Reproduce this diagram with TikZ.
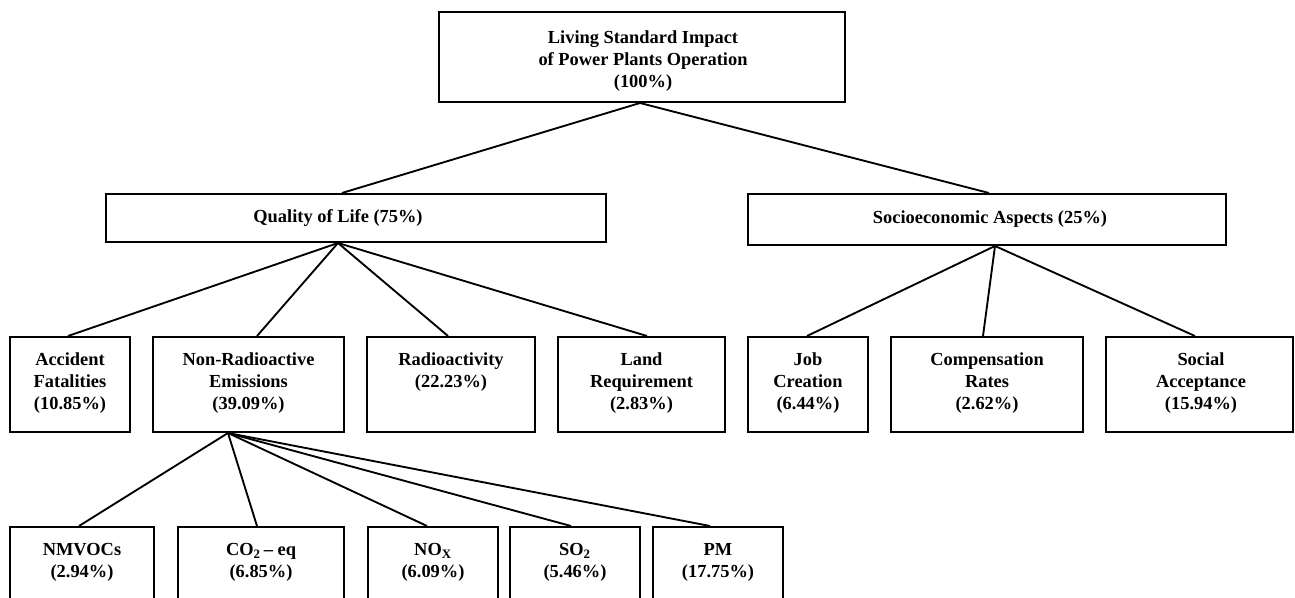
\documentclass[tikz,border=0pt]{standalone}
\usepackage{fontspec}
\setmainfont{Liberation Serif}
\begin{document}
\begin{tikzpicture}[x=0.75pt,y=-0.75pt,
  box/.style={draw, line width=1.5pt, inner sep=0pt, fill=white},
  lbl/.style={inner sep=0pt, align=center, anchor=north,
    font=\bfseries\fontsize{13.8pt}{16.6pt}\selectfont},
  lblc/.style={inner sep=0pt, align=center,
    font=\bfseries\fontsize{13.8pt}{16.6pt}\selectfont},
  conn/.style={line width=1.4pt}]
\useasboundingbox (0,0) rectangle (1295,598);
\clip (0,0) rectangle (1295,598);
% level 0
\node[box, minimum width=304.5pt, minimum height=67.5pt] (top) at (641.5,57) {};
\node[lbl] (toptxt) at (643,30) {Living Standard Impact\\of Power Plants Operation\\(100\%)};
% level 1
\node[box, minimum width=375pt, minimum height=36pt] (qol) at (356,218) {};
\node[lblc] (qoltxt) at (338,218) {Quality of Life (75\%)};
\node[box, minimum width=358.5pt, minimum height=38.25pt] (soe) at (987,219.5) {};
\node[lblc] (soetxt) at (990,219) {Socioeconomic Aspects (25\%)};
% level 2
\node[box, minimum width=90pt, minimum height=71.25pt] (acc) at (70,384.5) {};
\node[lbl] (acctxt) at (70,352) {Accident\\Fatalities\\(10.85\%)};
\node[box, minimum width=143.25pt, minimum height=71.25pt] (emi) at (248.5,384.5) {};
\node[lbl] (emitxt) at (248.5,352) {Non-Radioactive\\Emissions\\(39.09\%)};
\node[box, minimum width=126pt, minimum height=71.25pt] (rad) at (451,384.5) {};
\node[lbl] (radtxt) at (451,352) {Radioactivity\\(22.23\%)};
\node[box, minimum width=125.25pt, minimum height=71.25pt] (land) at (641.5,384.5) {};
\node[lbl] (landtxt) at (641.5,352) {Land\\Requirement\\(2.83\%)};
\node[box, minimum width=90pt, minimum height=71.25pt] (job) at (808,384.5) {};
\node[lbl] (jobtxt) at (808,352) {Job\\Creation\\(6.44\%)};
\node[box, minimum width=144pt, minimum height=71.25pt] (comp) at (987,384.5) {};
\node[lbl] (comptxt) at (987,352) {Compensation\\Rates\\(2.62\%)};
\node[box, minimum width=140.25pt, minimum height=71.25pt] (soc) at (1199.5,384.5) {};
\node[lbl] (soctxt) at (1201,352) {Social\\Acceptance\\(15.94\%)};
% level 3
\node[box, minimum width=108pt, minimum height=69.75pt] (nmv) at (82,573.5) {};
\node[lbl] (nmvtxt) at (82,543) {NMVOCs\\(2.94\%)};
\node[box, minimum width=124.5pt, minimum height=69.75pt] (co2) at (261,573.5) {};
\node[lbl] (co2txt) at (261,543) {CO\textsubscript{2}\,– eq\\(6.85\%)};
\node[box, minimum width=97.5pt, minimum height=69.75pt] (nox) at (433,573.5) {};
\node[lbl] (noxtxt) at (433,543) {NO\textsubscript{X}\\(6.09\%)};
\node[box, minimum width=97.5pt, minimum height=69.75pt] (so2) at (575,573.5) {};
\node[lbl] (so2txt) at (575,543) {SO\textsubscript{2}\\(5.46\%)};
\node[box, minimum width=97.5pt, minimum height=69.75pt] (pm) at (718,573.5) {};
\node[lbl] (pmtxt) at (718,543) {PM\\(17.75\%)};
% connectors
\draw[conn] ([xshift=-1.1pt]top.south) -- ([xshift=-10.5pt]qol.north);
\draw[conn] ([xshift=-1.1pt]top.south) -- ([xshift=1.5pt]soe.north);
\draw[conn] ([xshift=-13.5pt]qol.south) -- ([xshift=-1.5pt]acc.north);
\draw[conn] ([xshift=-13.5pt]qol.south) -- ([xshift=6.4pt]emi.north);
\draw[conn] ([xshift=-13.5pt]qol.south) -- ([xshift=-2.25pt]rad.north);
\draw[conn] ([xshift=-13.5pt]qol.south) -- ([xshift=4.1pt]land.north);
\draw[conn] ([xshift=6pt]soe.south) -- ([xshift=-0.75pt]job.north);
\draw[conn] ([xshift=6pt]soe.south) -- ([xshift=-3pt]comp.north);
\draw[conn] ([xshift=6pt]soe.south) -- ([xshift=-3.4pt]soc.north);
\draw[conn] ([xshift=-15.4pt]emi.south) -- ([xshift=-2.25pt]nmv.north);
\draw[conn] ([xshift=-15.4pt]emi.south) -- ([xshift=-3pt]co2.north);
\draw[conn] ([xshift=-15.4pt]emi.south) -- ([xshift=-4.5pt]nox.north);
\draw[conn] ([xshift=-15.4pt]emi.south) -- ([xshift=-3pt]so2.north);
\draw[conn] ([xshift=-15.4pt]emi.south) -- ([xshift=-6pt]pm.north);
\end{tikzpicture}
\end{document}
